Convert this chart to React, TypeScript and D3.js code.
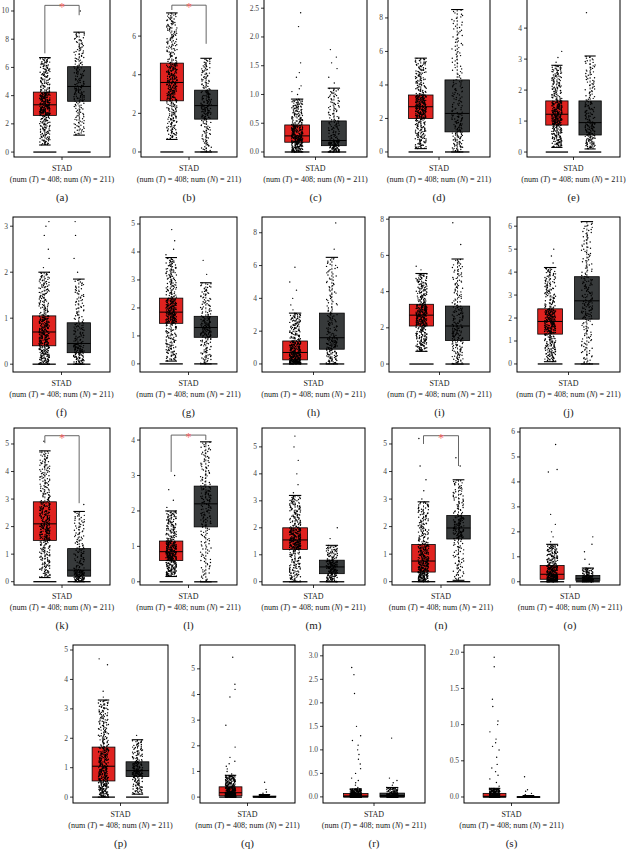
import React from 'react';
import * as d3 from 'd3';

// ---------- DATA ----------
const panelIds = ['a','b','c','d','e','f','g','h','i','j','k','l','m','n','o','p','q','r','s'];
const cancerType = 'STAD';
const numTumor = 408;
const numNormal = 211;

const yTicks: number[][] = [
  [0,2,4,6,8,10],[0,2,4,6],[0,0.5,1,1.5,2,2.5],[0,2,4,6,8],[0,1,2,3,4],
  [0,1,2,3],[0,1,2,3,4,5],[0,2,4,6,8],[0,2,4,6,8],[0,1,2,3,4,5,6],
  [0,1,2,3,4,5],[0,1,2,3,4],[0,1,2,3,4,5],[0,1,2,3,4,5],[0,1,2,3,4,5,6],
  [0,1,2,3,4,5],[0,1,2,3,4,5],[0,0.5,1,1.5,2,2.5,3],[0,0.5,1,1.5,2],
];
const yDomains: [number, number][] = [
  [-0.35,10.85],[-0.26,7.92],[-0.087,2.66],[-0.3,9.13],[-0.16,4.94],
  [-0.17,3.2],[-0.29,5.25],[-0.49,8.96],[-0.44,8.12],[-0.35,6.4],
  [-0.12,5.58],[-0.09,4.34],[-0.12,5.7],[-0.12,5.58],[-0.13,6.16],
  [-0.2,5.17],[-0.23,5.93],[-0.13,3.23],[-0.083,2.1],
];
// [lower whisker, Q1, median, Q3, upper whisker]
const tumorStats: number[][] = [
  [0.5,2.6,3.35,4.25,6.7],[0.65,2.65,3.6,4.6,7.2],[0,0.17,0.28,0.47,0.92],[0.2,2.0,2.7,3.4,5.6],[0.15,0.87,1.22,1.65,2.8],
  [0,0.4,0.7,1.05,2.0],[0.1,1.45,1.85,2.35,3.8],[0,0.25,0.7,1.4,3.1],[0.7,2.1,2.7,3.3,5.0],[0.1,1.3,1.85,2.4,4.2],
  [0.15,1.5,2.1,2.9,4.75],[0.15,0.6,0.85,1.15,2.0],[0,1.2,1.55,2.0,3.2],[0,0.35,0.75,1.35,2.9],[0,0.1,0.3,0.65,1.5],
  [0,0.55,1.05,1.7,3.3],[0,0.05,0.17,0.4,0.85],[0,0,0.02,0.07,0.17],[0,0,0.01,0.05,0.12],
];
const normalStats: number[][] = [
  [1.2,3.6,4.65,6.05,8.5],[0,1.7,2.4,3.2,4.85],[0,0.11,0.2,0.54,1.11],[0,1.2,2.3,4.3,8.5],[0.1,0.55,0.95,1.65,3.1],
  [0,0.25,0.45,0.9,1.85],[0,0.95,1.3,1.7,2.9],[0,0.9,1.6,3.1,6.5],[0,1.3,2.1,3.2,5.8],[0,1.95,2.75,3.8,6.2],
  [0,0.2,0.42,1.2,2.55],[0,1.55,2.2,2.7,3.95],[0,0.3,0.55,0.8,1.35],[0.05,1.55,1.95,2.4,3.7],[0,0.05,0.12,0.25,0.55],
  [0.1,0.7,0.9,1.2,1.95],[0,0,0.02,0.04,0.1],[0,0,0.03,0.08,0.2],[0,0,0,0.004,0.02],
];
const tumorOutliers: number[][] = [
  [],[],[1.0,1.05,1.1,1.15,1.3,1.38,1.55,2.18,2.42],[],[2.9,3.05,3.25],
  [2.1,2.3,2.5,2.8,3.0,3.1],[3.9,4.1,4.4,4.8],[3.3,3.6,4.0,4.5,5.0,5.9],[5.2,5.4],[4.4,4.7,5.0],
  [5.1],[2.1,2.3,2.6,3.0],[3.3,3.6,4.0,4.5,5.0,5.4],[3.0,3.3,3.7,4.2,5.2],[1.6,1.8,2.0,2.3,2.7,4.4,4.5,5.5],
  [3.4,3.6,4.5,4.7],[0.9,1.0,1.1,1.2,1.3,1.4,1.55,1.95,2.8,3.9,4.2,4.4,5.45],[0.2,0.25,0.3,0.35,0.4,0.5,0.6,0.7,0.8,0.9,1.0,1.1,1.2,1.3,1.5,2.2,2.6,2.75],[0.15,0.2,0.25,0.3,0.35,0.4,0.45,0.55,0.65,0.7,0.75,0.8,0.9,1.0,1.05,1.25,1.35,1.8,1.93],
];
const normalOutliers: number[][] = [
  [10.0],[],[1.2,1.3,1.45,1.55,1.65,1.78],[],[4.5],
  [2.0,2.3,2.8,3.1],[3.2,3.7],[7.0,8.6],[6.6,7.8],[],
  [2.8],[],[1.6,2.0],[4.2,4.5],[0.7,0.9,1.2,1.5,1.8],
  [2.1],[0.15,0.2,0.3,0.58],[0.25,0.3,0.35,0.4,1.25],[0.03,0.05,0.08,0.1,0.28],
];
// significance bracket: [top, left leg end, right leg end] or null
const significance: (number[] | null)[] = [
  [10.4,7.0,9.7],[7.6,7.35,5.6],null,null,null,
  null,null,null,null,null,
  [5.3,5.03,2.85],[4.14,3.1,4.0],null,[5.3,5.0,4.2],null,
  null,null,null,null,
];

// ---------- LAYOUT ----------
const frameX: number[][] = [
  [14,110],[141,237],[264,367],[388,490],[527,620],
  [13,110],[140,237],[262,365],[389,490],[517,620],
  [14,110],[140,237],[262,365],[392,490],[520,620],
  [73,168],[200,295],[323,425],[464,559],
];
const rowY: number[][] = [[-1,157],[217,372],[428,585],[645,803]];
const rowOf = (i: number) => (i < 5 ? 0 : i < 10 ? 1 : i < 15 ? 2 : 3);

const RED = '#e0221f';
const DARK = '#373a3b';
const FONT = '"Liberation Serif", "DejaVu Serif", serif';

function quantilePoints(stats: number[], count: number): number[] {
  const knots = d3.scaleLinear().domain([0, 0.25, 0.5, 0.75, 1]).range(stats);
  const out: number[] = [];
  for (let i = 0; i < count; i++) out.push(knots((i + 0.5) / count));
  return out;
}

// deterministic horizontal jitter (position only)
const jitterAt = (i: number, seed: number) => {
  const s = Math.sin(i * 12.9898 + seed * 78.233) * 43758.5453;
  return s - Math.floor(s);
};

function Group({ x, w, stats, outliers, n, y, color, seed }: any) {
  const [lo, q1, med, q3, hi] = stats;
  const pts = quantilePoints(stats, n - outliers.length).concat(outliers);
  const half = w / 2;
  const jit = half * 0.45;
  return (
    <g>
      <line x1={x} x2={x} y1={y(hi)} y2={y(q3)} stroke="#000" strokeWidth={0.8} strokeDasharray="2,1.5" />
      <line x1={x} x2={x} y1={y(q1)} y2={y(lo)} stroke="#000" strokeWidth={0.8} strokeDasharray="2,1.5" />
      <line x1={x - half * 0.5} x2={x + half * 0.5} y1={y(hi)} y2={y(hi)} stroke="#000" strokeWidth={1.1} />
      <line x1={x - half * 0.5} x2={x + half * 0.5} y1={y(lo)} y2={y(lo)} stroke="#000" strokeWidth={1.1} />
      <rect x={x - half} width={w} y={y(q3)} height={Math.max(0.8, y(q1) - y(q3))} fill={color} stroke="#000" strokeWidth={0.8} />
      <line x1={x - half} x2={x + half} y1={y(0)} y2={y(0)} stroke="#000" strokeWidth={1.3} />
      {pts.map((v, i) => (
        <circle key={i} cx={x + (jitterAt(i, seed) * 2 - 1) * jit} cy={y(v)} r={0.7} fill="#000" />
      ))}
      <line x1={x - half} x2={x + half} y1={y(med)} y2={y(med)} stroke="#000" strokeWidth={1} />
    </g>
  );
}

function Panel({ i }: { i: number }) {
  const [x0, x1] = frameX[i];
  const [top, bottom] = rowY[rowOf(i)];
  const y = d3.scaleLinear().domain(yDomains[i]).range([bottom, top]);
  const xs = d3.scalePoint<string>().domain(['T', 'N']).range([x0, x1]).padding(0.9);
  const w = (x1 - x0) * 0.24;
  const cx = (x0 + x1) / 2;
  const decimals = yTicks[i].some(t => t % 1 !== 0);
  const fmt = decimals ? d3.format('.1f') : d3.format('d');
  const sig = significance[i];
  const tX = xs('T')!, nX = xs('N')!;
  return (
    <g>
      <rect x={x0} y={top} width={x1 - x0} height={bottom - top} fill="#fff" stroke="#000" strokeWidth={1} />
      {yTicks[i].map(t => (
        <g key={t}>
          <line x1={x0 - 3} x2={x0} y1={y(t)} y2={y(t)} stroke="#000" strokeWidth={0.8} />
          <text x={x0 - 5} y={y(t)} dy="0.33em" textAnchor="end" fontSize={7.5} fill="#444" fontFamily={FONT}>{fmt(t)}</text>
        </g>
      ))}
      <line x1={cx} x2={cx} y1={bottom} y2={bottom + 3} stroke="#000" strokeWidth={0.8} />
      <Group x={tX} w={w} stats={tumorStats[i]} outliers={tumorOutliers[i]} n={numTumor} y={y} color={RED} seed={i + 1} />
      <Group x={nX} w={w} stats={normalStats[i]} outliers={normalOutliers[i]} n={numNormal} y={y} color={DARK} seed={i + 41} />
      {sig && (
        <g>
          <path d={`M${tX},${y(sig[1])}V${y(sig[0])}H${nX}V${y(sig[2])}`} fill="none" stroke="#555" strokeWidth={0.9} />
          <text x={(tX + nX) / 2} y={y(sig[0])} dy="0.5em" textAnchor="middle" fontSize={12} fill="#f26060" fontFamily={FONT}>*</text>
        </g>
      )}
      <text x={cx} y={bottom + 14} textAnchor="middle" fontSize={8} fill="#222" fontFamily={FONT}>{cancerType}</text>
      <text x={cx} y={bottom + 25} textAnchor="middle" fontSize={8.1} fill="#222" fontFamily={FONT}>
        (num (<tspan fontStyle="italic">T</tspan>) = {numTumor}; num (<tspan fontStyle="italic">N</tspan>) = {numNormal})
      </text>
      <text x={cx} y={bottom + 44} textAnchor="middle" fontSize={11} fill="#222" fontFamily={FONT}>({panelIds[i]})</text>
    </g>
  );
}

export default function App() {
  return (
    <svg width={627} height={850} style={{ position: 'absolute', left: 0, top: 0, background: '#fff' }}>
      <rect width={627} height={850} fill="#fff" />
      {panelIds.map((_, i) => <Panel key={i} i={i} />)}
    </svg>
  );
}
